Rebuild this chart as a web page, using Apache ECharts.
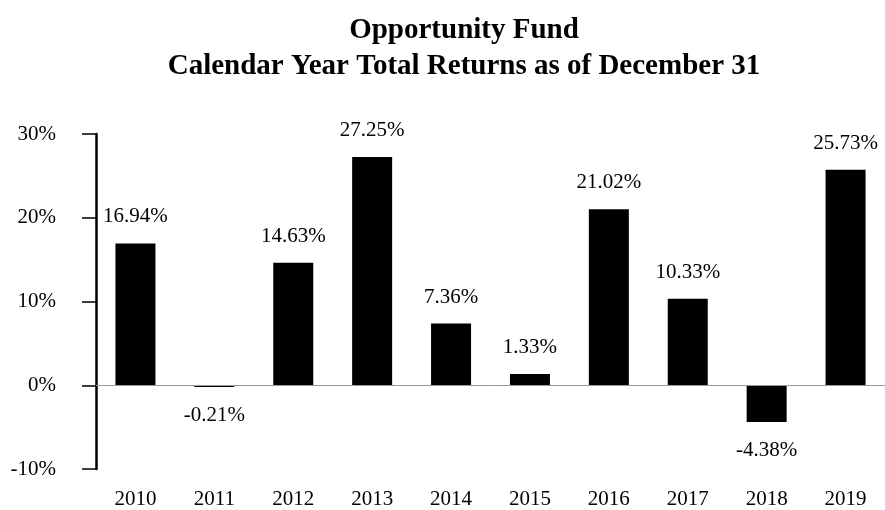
<!DOCTYPE html>
<html>
<head>
<meta charset="utf-8">
<script src="https://cdn.jsdelivr.net/npm/echarts@6/dist/echarts.min.js"></script>
<style>
    html, body { margin: 0; padding: 0; background: #fff; }
    #chart { width: 885px; height: 510px; }
</style>
</head>
<body>
<div id="chart"></div>
<script>
// calendar years and total returns (%)
var years = ['2010', '2011', '2012', '2013', '2014', '2015', '2016', '2017', '2018', '2019'];
var returns = [16.94, -0.21, 14.63, 27.25, 7.36, 1.33, 21.02, 10.33, -4.38, 25.73];
var yTicks = { min: -10, max: 30, step: 10 };

var serif = '"Liberation Serif", "Times New Roman", serif';

// negative bars get their label below the bar
var barData = returns.map(function (v) {
    return {
        value: v,
        label: v < 0 ? { position: 'bottom', distance: 18 } : { position: 'top', distance: 16 }
    };
});

var chart = echarts.init(document.getElementById('chart'));
chart.setOption({
    animation: false,
    title: {
        text: 'Opportunity Fund\nCalendar Year Total Returns as of December 31',
        left: 459,
        top: 8,
        textAlign: 'center',
        textStyle: {
            fontFamily: serif,
            fontWeight: 'bold',
            fontSize: 29,
            lineHeight: 36,
            color: '#000'
        }
    },
    grid: { left: 96, right: -8, top: 134, bottom: 40 },
    xAxis: {
        type: 'category',
        data: years,
        axisLine: { show: false, onZero: false },
        axisTick: { show: false },
        axisLabel: { margin: 20, fontFamily: serif, fontSize: 21, color: '#000' }
    },
    yAxis: {
        type: 'value',
        min: yTicks.min,
        max: yTicks.max,
        interval: yTicks.step,
        splitLine: { show: false },
        axisLine: { show: true, lineStyle: { color: '#000', width: 2.5 } },
        axisTick: { show: true, length: 14, lineStyle: { color: '#000', width: 1.5 } },
        axisLabel: {
            margin: 40,
            formatter: '{value}%',
            fontFamily: serif,
            fontSize: 21,
            color: '#000'
        }
    },
    series: [{
        type: 'bar',
        data: barData,
        barWidth: 40,
        itemStyle: { color: '#000' },
        label: {
            show: true,
            fontFamily: serif,
            fontSize: 21,
            color: '#000',
            formatter: function (p) { return p.value.toFixed(2) + '%'; }
        },
        markLine: {
            silent: true,
            symbol: 'none',
            label: { show: false },
            lineStyle: { color: '#999', width: 1, type: 'solid' },
            data: [{ yAxis: 0 }]
        }
    }]
});
</script>
</body>
</html>
